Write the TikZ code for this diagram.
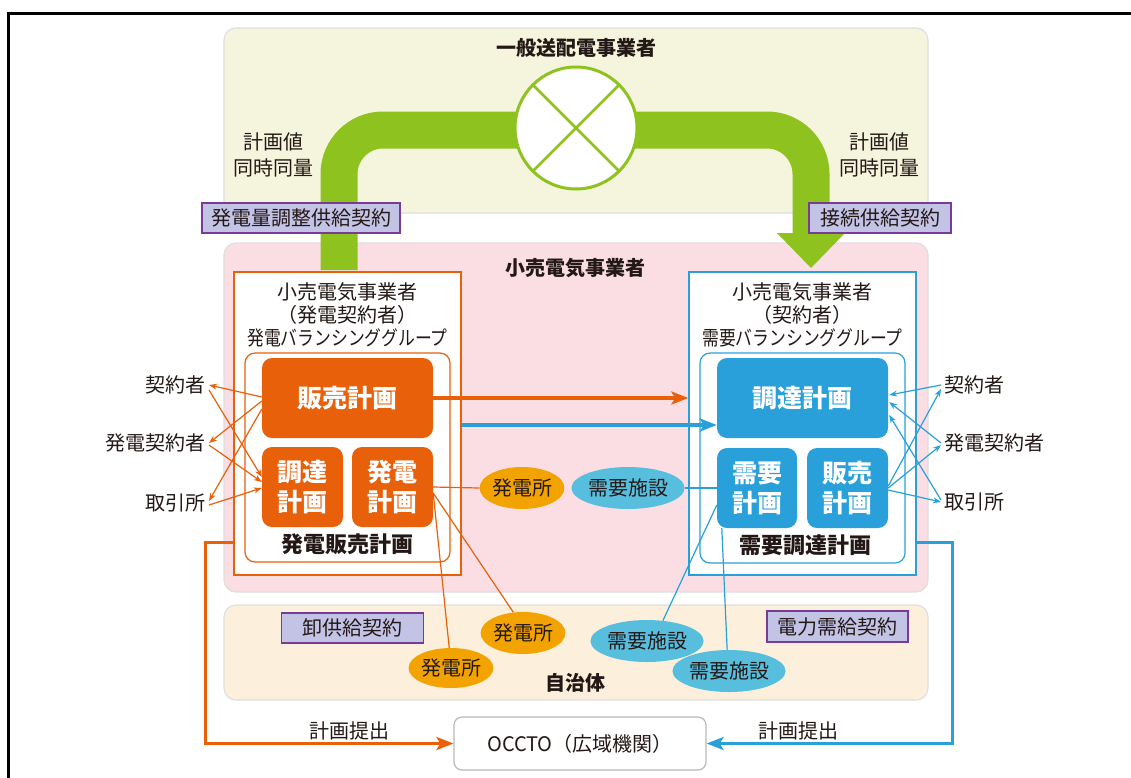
\documentclass[tikz,border=0pt]{standalone}
\usepackage{fontspec}
\setmainfont{Noto Sans CJK JP}
\usetikzlibrary{shapes.geometric,arrows.meta,calc}
\definecolor{orangeM}{RGB}{233,96,10}
\definecolor{blueM}{RGB}{41,160,218}
\definecolor{greenM}{RGB}{141,194,31}
\definecolor{gpfill}{RGB}{243,163,0}
\definecolor{dmfill}{RGB}{88,190,222}
\definecolor{topfill}{RGB}{245,245,222}
\definecolor{pinkfill}{RGB}{250,222,228}
\definecolor{jichifill}{RGB}{252,240,220}
\definecolor{lavM}{RGB}{195,195,230}
\definecolor{purpleM}{RGB}{120,60,150}
\definecolor{inkM}{RGB}{35,24,21}
\tikzset{
  bgbox/.style={draw=gray!25, line width=1.2, rounded corners=12, inner sep=0},
  lav/.style={draw=purpleM, fill=lavM, line width=1.5, inner sep=0, text=inkM, font=\fontsize{20}{24}\selectfont},
  outerbox/.style={draw=#1, line width=1.4, fill=white, inner sep=0},
  innerbox/.style={draw=#1, line width=1.2, rounded corners=10, fill=white, inner sep=0},
  blk/.style={fill=#1, rounded corners=10, text=white, font=\bfseries\fontsize{25}{30}\selectfont, inner sep=0, align=center},
  oval/.style={ellipse, fill=#1, inner sep=0, text=inkM, font=\fontsize{20}{24}\selectfont, minimum height=42},
  lbl/.style={font=\fontsize{20}{26}\selectfont, inner sep=0, align=center, text=inkM},
  hdr/.style={font=\fontsize{20}{23}\selectfont, inner sep=0, align=center, text=inkM},
  ttl/.style={font=\bfseries\fontsize{20}{24}\selectfont, inner sep=0, text=inkM},
  thinarr/.style={draw=#1, line width=1.2, -{Stealth[length=8,width=6]}},
  thinln/.style={draw=#1, line width=1.2},
  thickarr/.style={draw=#1, line width=3.2, -{Stealth[length=17,width=13,inset=4]}},
}
\begin{document}
\begin{tikzpicture}[x=1pt,y=-1pt]
\useasboundingbox (0,0) rectangle (1131,777);
% frame
\draw[line width=3] (8,800) -- (8,13) -- (1150,13);
% background areas
\node[bgbox, fill=topfill, minimum width=704, minimum height=185] (topbox) at (576,120.5) {};
\node[bgbox, fill=pinkfill, minimum width=704, minimum height=349] (pinkbox) at (576,417.5) {};
\node[bgbox, fill=jichifill, minimum width=704, minimum height=95] (jichibox) at (576,652.5) {};
\node[ttl] (t1) at (576,48) {一般送配電事業者};
\node[ttl] (t2) at (575,268) {小売電気事業者};
\node[ttl] (t3) at (575,683) {自治体};
% green band
\coordinate (bandL) at (339,270);
\coordinate (bandR) at (811,234);
\draw[greenM, line width=37, rounded corners=44] (bandL) -- (339,130) -- (811,130) -- (bandR);
\fill[greenM] (777,233) -- (845,233) -- (811,268) -- cycle;
\node[ellipse, draw=greenM, line width=3, fill=white, minimum width=122, minimum height=122, inner sep=0, outer sep=0] (sw) at (576,128) {};
\draw[greenM, line width=2.5] (sw.45) -- (sw.225);
\draw[greenM, line width=2.5] (sw.135) -- (sw.315);
\node[lbl] (pvL) at (273,155) {計画値\\同時同量};
\node[lbl] (pvR) at (879,155) {計画値\\同時同量};
% contract labels
\node[lav, minimum width=198, minimum height=30] (c1) at (301,218) {発電量調整供給契約};
\node[lav, minimum width=142, minimum height=30] (c2) at (880,218) {接続供給契約};
\node[lav, minimum width=142, minimum height=30] (c3) at (352.5,628) {卸供給契約};
\node[lav, minimum width=141, minimum height=31] (c4) at (837.5,626.5) {電力需給契約};
% left group
\node[outerbox=orangeM, minimum width=227, minimum height=303] (LO) at (347.5,423.5) {};
\node[hdr] (LOh) at (347.5,315) {小売電気事業者\\（発電契約者）\\\scalebox{0.84}[1]{発電バランシンググループ}};
\node[innerbox=orangeM, minimum width=205, minimum height=209] (LI) at (347.5,457.5) {};
\node[blk=orangeM, minimum width=171, minimum height=80] (hL) at (347.5,398) {販売計画};
\node[blk=orangeM, minimum width=81, minimum height=80] (cL) at (302.5,487) {調達\\計画};
\node[blk=orangeM, minimum width=81, minimum height=80] (gL) at (392.5,487) {発電\\計画};
\node[ttl, font=\bfseries\fontsize{22}{26}\selectfont] (LIt) at (347.5,544) {発電販売計画};
% right group
\node[outerbox=blueM, minimum width=227, minimum height=303] (RO) at (802.5,423.5) {};
\node[hdr] (ROh) at (802.5,315) {小売電気事業者\\（契約者）\\\scalebox{0.84}[1]{需要バランシンググループ}};
\node[innerbox=blueM, minimum width=205, minimum height=210] (RI) at (802.5,458) {};
\node[blk=blueM, minimum width=171, minimum height=80] (cR) at (802.5,398) {調達計画};
\node[blk=blueM, minimum width=80, minimum height=80] (jR) at (757,488) {需要\\計画};
\node[blk=blueM, minimum width=81, minimum height=80] (hR) at (847.5,488) {販売\\計画};
\node[ttl, font=\bfseries\fontsize{22}{26}\selectfont] (RIt) at (805,545) {需要調達計画};
% side labels
\node[lbl, anchor=east] (k1L) at (206,385) {契約者};
\node[lbl, anchor=east] (k2L) at (206,443) {発電契約者};
\node[lbl, anchor=east] (k3L) at (206,503) {取引所};
\node[lbl, anchor=west] (k1R) at (944,385) {契約者};
\node[lbl, anchor=west] (k2R) at (944,443) {発電契約者};
\node[lbl, anchor=west] (k3R) at (944,502) {取引所};
% left thin arrows
\draw[thinarr=orangeM] ($(hL.west)+(0,-1)$) -- ($(k1L.east)+(3,0)$);
\draw[thinarr=orangeM] ($(hL.west)+(0,3)$) -- ($(k2L.east)+(3,0)$);
\draw[thinarr=orangeM] ($(hL.west)+(0,11)$) -- ($(k3L.east)+(3,-2)$);
\draw[thinarr=orangeM] ($(k1L.east)+(3,5)$) -- ($(cL.west)+(0,-10)$);
\draw[thinarr=orangeM] ($(k2L.east)+(3,2)$) -- ($(cL.west)+(0,-5)$);
\draw[thinarr=orangeM] ($(k3L.east)+(3,2)$) -- ($(cL.west)+(0,1)$);
% right thin arrows
\draw[thinarr=blueM] ($(k1R.west)+(-3,0)$) -- ($(cR.east)+(1,-3)$);
\draw[thinarr=blueM] ($(k2R.west)+(-3,0)$) -- ($(cR.east)+(1,4)$);
\draw[thinarr=blueM] ($(k3R.west)+(-3,-2)$) -- ($(cR.east)+(1,17)$);
\draw[thinarr=blueM] ($(hR.east)+(0,-2)$) -- ($(k1R.west)+(-3,4)$);
\draw[thinarr=blueM] ($(hR.east)+(0,0)$) -- ($(k2R.west)+(-3,2)$);
\draw[thinarr=blueM] ($(hR.east)+(0,2)$) -- ($(k3R.west)+(-3,0)$);
% ovals
\node[oval=gpfill, minimum width=82] (gp1) at (522,488) {発電所};
\node[oval=gpfill, minimum width=82] (gp2) at (523,633) {発電所};
\node[oval=gpfill, minimum width=82, minimum height=40] (gp3) at (451,668) {発電所};
\node[oval=dmfill, minimum width=90] (dm1) at (628,488) {需要施設};
\node[oval=dmfill, minimum width=90] (dm2) at (647,641) {需要施設};
\node[oval=dmfill, minimum width=90] (dm3) at (729,671) {需要施設};
\draw[thinln=orangeM] (gL.east) -- (gp1.west);
\draw[thinln=orangeM] ($(gL.east)+(0,6)$) -- (gp2.115);
\draw[thinln=orangeM] ($(gL.east)+(0,6)$) -- (gp3.95);
\draw[thinln=blueM] (dm1.east) -- (jR.west);
\draw[thinln=blueM] ($(jR.west)+(0,17)$) -- (dm2.52);
\draw[thinln=blueM] ($(jR.south west)+(5,0)$) -- (dm3.95);
% middle thick arrows
\coordinate (bs) at ($(LO.east)+(0,1.5)$);
\draw[thickarr=orangeM] (hL.east) -- (hL.east -| RO.west);
\draw[thickarr=blueM] (bs) -- (bs -| cR.west);
% OCCTO
\node[draw=gray!55, line width=1.2, rounded corners=8, fill=white, minimum width=252, minimum height=53, inner sep=0, text=inkM, font=\fontsize{20}{24}\selectfont] (occ) at (580,743.5) {OCCTO（広域機関）};
\node[lbl] (sub1) at (349,731) {計画提出};
\node[lbl] (sub2) at (798,731) {計画提出};
\draw[thickarr=orangeM] ($(LO.south west)+(0,-33)$) -- ++(-28,0) |- (occ.west);
\draw[thickarr=blueM] ($(RO.south east)+(0,-33)$) -- ++(36,0) |- (occ.east);
\end{tikzpicture}
\end{document}
